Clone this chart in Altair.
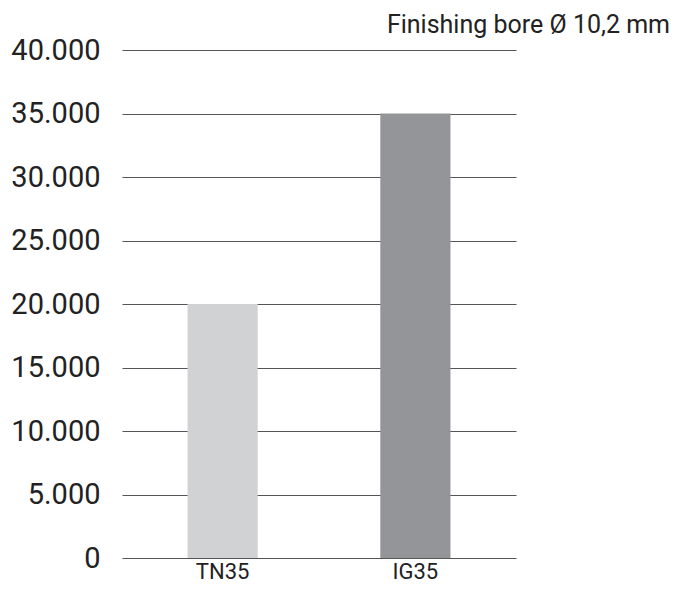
import altair as alt
import pandas as pd

categories = ["TN35", "IG35"]
values = [20000, 35000]
colors = ["#d1d2d4", "#939598"]
y_ticks = [0, 5000, 10000, 15000, 20000, 25000, 30000, 35000, 40000]
title_text = "Finishing bore Ø 10,2 mm"

df = pd.DataFrame({"cat": categories, "val": values, "color": colors})

FONT = "Roboto"
W, H = 394, 508

bars = alt.Chart(df).mark_bar().encode(
    x=alt.X("cat:N", sort=categories,
            scale=alt.Scale(paddingInner=0.636, paddingOuter=0.34),
            axis=alt.Axis(title=None, labelAngle=0, domain=False, ticks=False,
                          labelFontSize=22, labelColor="#222", labelFont=FONT,
                          labelPadding=3, grid=False)),
    y=alt.Y("val:Q",
            scale=alt.Scale(domain=[0, 40000], nice=False),
            axis=alt.Axis(title=None, values=y_ticks, domain=False, ticks=False,
                          grid=True, gridColor="#555", gridWidth=1.2,
                          labelFontSize=29, labelColor="#222", labelFont=FONT,
                          labelPadding=22, zindex=0,
                          labelExpr="replace(format(datum.value, ',d'), ',', '.')")),
    color=alt.Color("color:N", scale=None),
)

title = alt.Chart(pd.DataFrame({"t": [title_text]})).mark_text(
    align="right", baseline="alphabetic", fontSize=25, font=FONT, color="#222"
).encode(
    x=alt.value(W + 154),
    y=alt.value(-17),
    text="t:N",
)

chart = alt.layer(bars, title).properties(
    width=W,
    height=H,
    padding={"left": 114, "top": 42, "right": 156, "bottom": 26},
    autosize=alt.AutoSizeParams(type="none"),
).configure_view(stroke=None)

chart.save("out.html", embed_options={"renderer": "svg", "actions": False})
